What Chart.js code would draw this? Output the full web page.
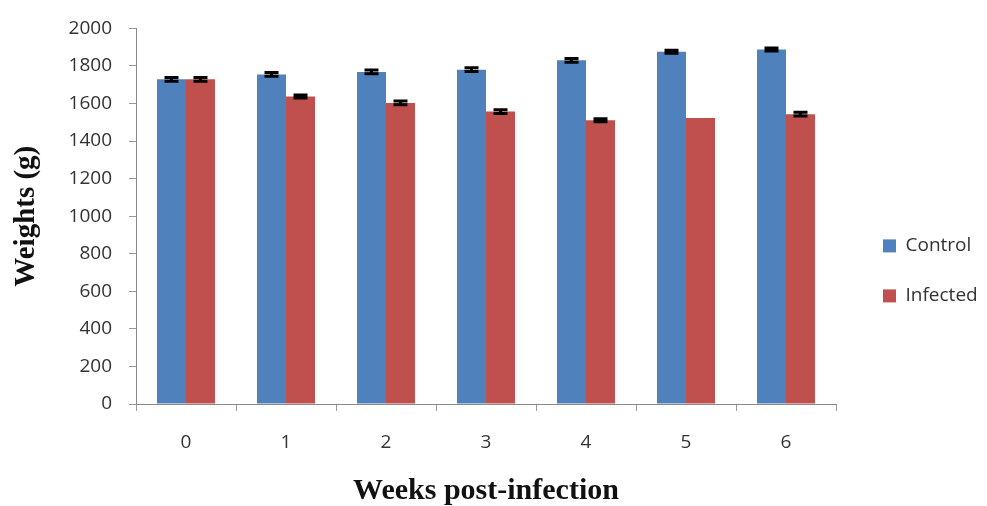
<!DOCTYPE html>
<html>
<head>
<meta charset="utf-8">
<script src="https://cdn.jsdelivr.net/npm/chart.js@4"></script>
<style>
html,body{margin:0;padding:0;background:#fff;}
#wrap{width:987px;height:506px;position:relative;}
</style>
</head>
<body>
<div id="wrap"><canvas id="c" width="987" height="506"></canvas></div>
<script>
const weeks = ['0','1','2','3','4','5','6'];
const controlWeights = [1729, 1755, 1768, 1780, 1830, 1876, 1888];
const infectedWeights = [1729, 1638, 1603, 1557, 1511, 1523, 1543];
const controlErrors = [10, 10, 10, 10, 10, 8, 8];
const infectedErrors = [10, 8, 10, 10, 8, 0, 10];
const yTicks = [0, 200, 400, 600, 800, 1000, 1200, 1400, 1600, 1800, 2000];

const errorBars = {
  id: 'errorBars',
  afterDatasetsDraw(chart) {
    const ctx = chart.ctx;
    const y = chart.scales.y;
    ctx.save();
    ctx.strokeStyle = '#000';
    ctx.lineWidth = 3;
    chart.data.datasets.forEach((ds, i) => {
      const meta = chart.getDatasetMeta(i);
      meta.data.forEach((bar, j) => {
        const e = ds.errors[j];
        if (!e) return;
        const v = ds.data[j];
        const top = y.getPixelForValue(v + e);
        const bot = y.getPixelForValue(v - e);
        const hw = 7;
        ctx.beginPath();
        ctx.moveTo(bar.x, top); ctx.lineTo(bar.x, bot);
        ctx.moveTo(bar.x - hw, top); ctx.lineTo(bar.x + hw, top);
        ctx.moveTo(bar.x - hw, bot); ctx.lineTo(bar.x + hw, bot);
        ctx.stroke();
      });
    });
    ctx.restore();
  }
};

// shift the legend a little to the right of its layout box
const legendShift = {
  id: 'legendShift',
  afterLayout(chart) {
    const lg = chart.legend;
    if (lg) { lg.left += 16; lg.right += 16; }
  }
};

const chart = new Chart(document.getElementById('c'), {
  type: 'bar',
  data: {
    labels: weeks,
    datasets: [
      { label: 'Control', data: controlWeights, errors: controlErrors, backgroundColor: '#4F81BD', borderWidth: 0 },
      { label: 'Infected', data: infectedWeights, errors: infectedErrors, backgroundColor: '#C0504D', borderWidth: 0 }
    ]
  },
  options: {
    responsive: false,
    animation: false,
    devicePixelRatio: 1,
    layout: { padding: { top: 28, right: 0, left: 0, bottom: 0 } },
    datasets: { bar: { categoryPercentage: 0.58, barPercentage: 1.0 } },
    plugins: {
      legend: {
        position: 'right',
        align: 'center',
        title: { display: true, text: ' ', font: { size: 4 }, padding: 1.5 },
        labels: {
          boxWidth: 13, boxHeight: 13, padding: 31,
          color: '#333',
          font: { family: '"Open Sans", Lato, sans-serif', size: 19 }
        }
      },
      tooltip: { enabled: false }
    },
    scales: {
      x: {
        offset: true,
        grid: { display: true, offset: true, drawOnChartArea: false, drawTicks: true, tickLength: 7, color: '#9a9a9a' },
        border: { display: true, color: '#8a8a8a', width: 1 },
        ticks: { color: '#333', font: { family: '"Open Sans", Lato, sans-serif', size: 19 }, padding: 20 },
        title: { display: true, text: 'Weeks post-infection', color: '#111', font: { family: '"Liberation Serif", serif', size: 30, weight: 'bold' }, padding: { top: 10, bottom: -3 } },
        afterFit(s) { s.height = 102; }
      },
      y: {
        min: 0, max: 2000,
        afterBuildTicks(s) { s.ticks = yTicks.map(v => ({ value: v })); },
        grid: { display: true, drawOnChartArea: false, drawTicks: true, tickLength: 7, color: '#9a9a9a' },
        border: { display: true, color: '#8a8a8a', width: 1 },
        ticks: { color: '#333', font: { family: '"Open Sans", Lato, sans-serif', size: 19 }, padding: 17, callback: v => String(v) },
        title: { display: true, text: 'Weights (g)', color: '#111', font: { family: '"Liberation Serif", serif', size: 29, weight: 'bold' }, padding: { top: 9, bottom: 8 } },
        afterFit(s) { s.width = 136; }
      }
    }
  },
  plugins: [errorBars, legendShift]
});
const origFit = chart.legend.fit;
chart.legend.fit = function () { origFit.call(this); this.width = 987 - 836; };
chart.update();
</script>
</body>
</html>
